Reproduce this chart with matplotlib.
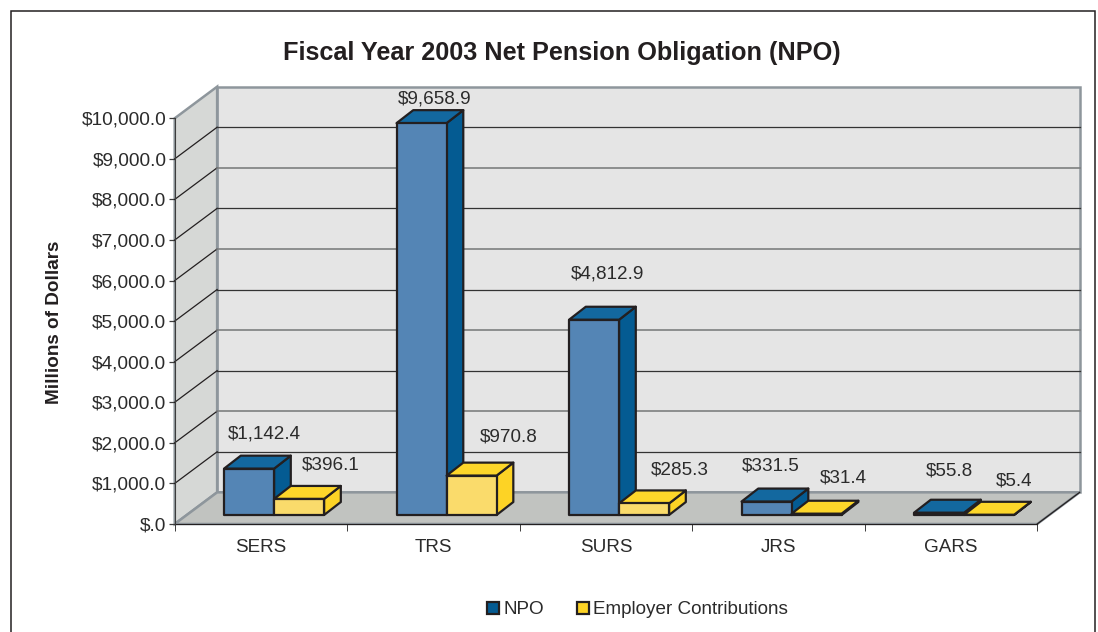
"""Fiscal Year 2003 Net Pension Obligation: pseudo-3D grouped bars per retirement system."""

import matplotlib
matplotlib.use("Agg")
import matplotlib.pyplot as plt
from matplotlib.patches import Patch, Polygon, Rectangle

plt.rcParams["font.family"] = ["Liberation Sans", "DejaVu Sans"]

SYSTEMS = ["SERS", "TRS", "SURS", "JRS", "GARS"]
NPO = [1142.4, 9658.9, 4812.9, 331.5, 55.8]
EMPLOYER = [396.1, 970.8, 285.3, 31.4, 5.4]
NPO_LABELS = ["$1,142.4", "$9,658.9", "$4,812.9", "$331.5", "$55.8"]
EMPLOYER_LABELS = ["$396.1", "$970.8", "$285.3", "$31.4", "$5.4"]
Y_TICKS = list(range(0, 10001, 1000))
Y_TICK_LABELS = ["$.0"] + [f"${v:,.1f}" for v in Y_TICKS[1:]]

# hand-placed label offsets in pixels from the back top of each bar
NPO_OFFSETS = [(15, 21.5), (13, 11.5), (13, 32.5), (4, 22.5), (10, 28.5)]
EMPLOYER_OFFSETS = [(32, 20.5), (37, 25.5), (36, 20.5), (27, 22.5), (25, 20.5)]

W, H = 1098, 632
INK = "#231f20"
TEXT = "#2b2b2b"
WALL_EDGE = "#8e969c"

# depth of the box and of the bars, in data units
DEPTH_X, DEPTH_Y = 0.246, 780
BAR_DX, BAR_DY = 0.097, 320
BAR_START, BAR_W = 0.286, 0.29
BAR_LIFT = 222

BLUE = ("#5485b5", "#13689f", "#045b92")    # front, top, side
YELLOW = ("#fadb6b", "#fdd62a", "#fdd325")


def draw_bar(ax, x, value, colors, zorder):
    x1 = x + BAR_W
    y0 = BAR_LIFT
    y1 = BAR_LIFT + value
    front = [(x, y0), (x1, y0), (x1, y1), (x, y1)]
    top = [(x, y1), (x1, y1), (x1 + BAR_DX, y1 + BAR_DY), (x + BAR_DX, y1 + BAR_DY)]
    side = [(x1, y0), (x1 + BAR_DX, y0 + BAR_DY), (x1 + BAR_DX, y1 + BAR_DY), (x1, y1)]
    for pts, c in zip((side, top, front), (colors[2], colors[1], colors[0])):
        ax.add_patch(Polygon(pts, closed=True, facecolor=c, edgecolor=INK, linewidth=1.6,
                             joinstyle="round", clip_on=False, zorder=zorder))


def main():
    fig = plt.figure(figsize=(W / 100, H / 100), dpi=100)
    ax = fig.add_axes([174.7 / W, 1 - 524 / H, 862.5 / W, 405.7 / H])
    ax.set_xlim(0, len(SYSTEMS))
    ax.set_ylim(0, 10000)
    ax.patch.set_visible(False)

    n = len(SYSTEMS)
    top = Y_TICKS[-1]

    # box: back wall, left wall, floor
    ax.add_patch(Polygon([(DEPTH_X, DEPTH_Y), (n + DEPTH_X, DEPTH_Y),
                          (n + DEPTH_X, top + DEPTH_Y), (DEPTH_X, top + DEPTH_Y)],
                         facecolor="#e5e5e5", edgecolor=WALL_EDGE, linewidth=1.8,
                         clip_on=False, zorder=1))
    ax.add_patch(Polygon([(0, 0), (DEPTH_X, DEPTH_Y), (DEPTH_X, top + DEPTH_Y), (0, top)],
                         facecolor="#d6d8d6", edgecolor=WALL_EDGE, linewidth=1.8,
                         clip_on=False, zorder=1))
    ax.add_patch(Polygon([(0, 0), (n, 0), (n + DEPTH_X, DEPTH_Y), (DEPTH_X, DEPTH_Y)],
                         facecolor="#c1c3c0", edgecolor=WALL_EDGE, linewidth=1.8,
                         clip_on=False, zorder=1))
    ax.plot([n, n + DEPTH_X], [0, DEPTH_Y], color=INK, lw=0.9, clip_on=False, zorder=2)

    # grid lines wrap from the left wall onto the back wall; even thousands print lighter
    for v in Y_TICKS[1:-1]:
        ax.plot([0, DEPTH_X], [v, v + DEPTH_Y], color=INK, lw=0.9, clip_on=False, zorder=2)
        even = v % 2000 == 0
        ax.plot([DEPTH_X, n + DEPTH_X], [v + DEPTH_Y, v + DEPTH_Y],
                color="#7d7f80" if even else "#333333", lw=1.2 if even else 0.9,
                clip_on=False, zorder=2)

    # bars
    for i in range(n):
        x = i + BAR_START
        draw_bar(ax, x, NPO[i], BLUE, 3 + i * 2)
        draw_bar(ax, x + BAR_W, EMPLOYER[i], YELLOW, 4 + i * 2)

    # value labels
    groups = [(NPO, NPO_LABELS, NPO_OFFSETS, 0), (EMPLOYER, EMPLOYER_LABELS, EMPLOYER_OFFSETS, 1)]
    for values, labels, offsets, slot in groups:
        for i, (v, lab, off) in enumerate(zip(values, labels, offsets)):
            cx = i + BAR_START + BAR_W * (slot + 0.5)
            ax.annotate(lab, (cx, BAR_LIFT + v + BAR_DY), xytext=off,
                        textcoords="offset pixels", ha="center", va="center",
                        fontsize=13.6, color=TEXT, annotation_clip=False, zorder=20)

    # axes
    for side in ("top", "right"):
        ax.spines[side].set_visible(False)
    ax.spines["left"].set_color("#3c3c3c")
    ax.spines["bottom"].set_color(INK)
    ax.spines["left"].set_zorder(15)
    ax.spines["bottom"].set_zorder(2)
    ax.set_yticks(Y_TICKS)
    ax.set_yticklabels(Y_TICK_LABELS, fontsize=13.8, color=TEXT)
    ax.tick_params(axis="y", length=4.5, width=0.9, color="#3c3c3c", pad=1.5)
    ax.set_xticks(range(n + 1))
    ax.set_xticklabels([])
    ax.tick_params(axis="x", which="major", length=5, width=0.7, color="#3c3c3c")
    ax.set_xticks([i + 0.5 for i in range(n)], minor=True)
    ax.set_xticklabels(SYSTEMS, minor=True, fontsize=13.6, color=TEXT)
    ax.tick_params(axis="x", which="minor", length=0, pad=11)

    fig.text(561.5 / W, 1 - 53 / H, "Fiscal Year 2003 Net Pension Obligation (NPO)",
             ha="center", va="center", fontsize=18.2, fontweight="bold", color=INK)
    fig.text(54.5 / W, 1 - 322 / H, "Millions of Dollars", rotation=90, ha="center",
             va="center", fontsize=13.6, fontweight="bold", color=INK)

    handles = [Patch(facecolor=BLUE[2], edgecolor=INK, linewidth=1.6, label="NPO"),
               Patch(facecolor=YELLOW[2], edgecolor=INK, linewidth=1.6,
                     label="Employer Contributions")]
    fig.legend(handles=handles, loc="center", bbox_to_anchor=(637.5 / W, 1 - 610 / H),
               ncol=2, frameon=False, fontsize=13.6, labelcolor=TEXT, handlelength=0.62,
               handleheight=0.62, handletextpad=0.25, columnspacing=1.75)

    # page frame, open past the lower edge
    fig.add_artist(Rectangle((11 / W, -0.05), 1084 / W, 1.05 - 10.5 / H,
                             transform=fig.transFigure, fill=False,
                             edgecolor=INK, linewidth=1.1))

    fig.savefig("out.png", dpi=100)
    plt.close(fig)


if __name__ == "__main__":
    main()
